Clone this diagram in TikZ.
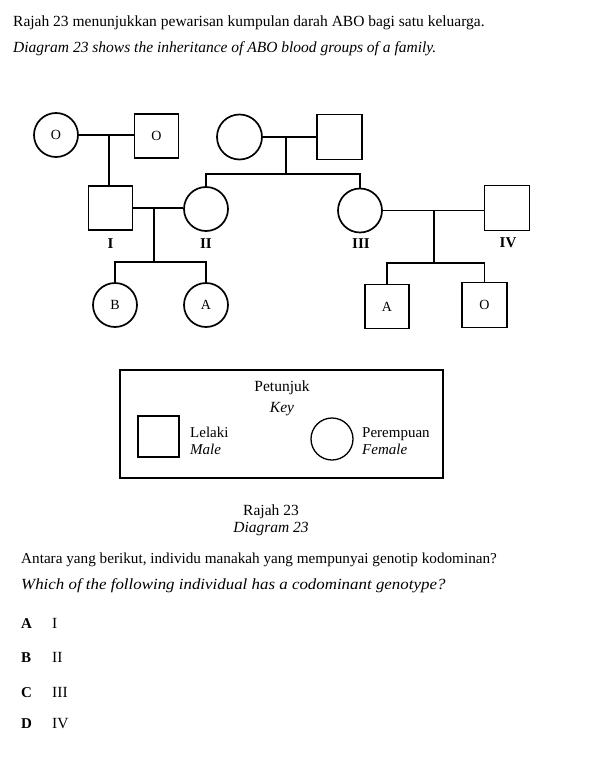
\documentclass[tikz,border=0pt]{standalone}
\usepackage{fontspec}
\setmainfont{Liberation Serif}
\begin{document}
\begin{tikzpicture}[x=1pt,y=-1pt,
  fem/.style={circle, draw, line width=1.7pt, minimum size=44pt, inner sep=0pt, font=\fontsize{14}{16}\selectfont},
  mal/.style={rectangle, draw, line width=1.7pt, minimum size=44pt, inner sep=0pt, font=\fontsize{14}{16}\selectfont},
  conn/.style={line width=1.6pt},
  gen/.style={inner sep=0pt, font=\bfseries\fontsize{15}{17}\selectfont},
  txt/.style={anchor=base west, inner sep=0pt, font=\fontsize{15.5}{18}\selectfont},
  itx/.style={anchor=base west, inner sep=0pt, font=\itshape\fontsize{15.5}{18}\selectfont},
  ctr/.style={anchor=base, inner sep=0pt, font=\fontsize{15.5}{18}\selectfont},
  opt/.style={anchor=base west, inner sep=0pt, font=\bfseries\fontsize{15}{18}\selectfont},
  keybox/.style={draw, line width=1.2pt},
  keysym/.style={draw, line width=1.3pt, minimum size=41pt, inner sep=0pt}
]
\useasboundingbox (0,0) rectangle (595,771);

% header text
\node[txt] (t1) at (13,26) {Rajah 23 menunjukkan pewarisan kumpulan darah ABO bagi satu keluarga.};
\node[itx] (t2) at (13,52) {Diagram 23 shows the inheritance of ABO blood groups of a family.};

% generation 1
\node[fem] (fO) at (56,135) {O};
\node[mal] (mO) at (156.5,136) {O};
\node[fem, minimum size=45pt] (gm) at (239.5,137) {};
\node[mal, minimum size=45pt] (gf) at (339.5,137) {};

% generation 2
\node[mal] (I) at (110.5,208) {};
\node[fem] (II) at (206,209) {};
\node[fem] (III) at (360,210.5) {};
\node[mal, minimum size=45pt] (IV) at (507,208) {};

\node[gen] (lI) at (110.5,244) {I};
\node[gen] (lII) at (206,244) {II};
\node[gen] (lIII) at (361,244) {III};
\node[gen] (lIV) at (508,243) {IV};

% generation 3
\node[fem] (cB) at (115,305) {B};
\node[fem] (cA) at (206,305) {A};
\node[mal] (sA) at (387,306.5) {A};
\node[mal, minimum size=45pt] (sO) at (484.5,305) {O};

% connectors
\coordinate (m1) at (109,135);
\draw[conn] (fO.east) -- (fO.east -| mO.west);
\draw[conn] (m1) -- (m1 |- I.north);

\coordinate (m2) at (286,136.5);
\coordinate (s2) at (286,174);
\draw[conn] (gm.east) -- (gm.east -| gf.west);
\draw[conn] (m2) -- (s2);
\draw[conn] (II.north) |- (s2) -| (III.north);

\coordinate (m3) at (154,208.5);
\coordinate (s3) at (154,262);
\draw[conn] (I.east) -- (I.east -| II.west);
\draw[conn] (m3) -- (s3);
\draw[conn] (cB.north) |- (s3) -| (cA.north);

\coordinate (m4) at (434,210);
\coordinate (s4) at (434,263);
\draw[conn] (III.east) -- (III.east -| IV.west);
\draw[conn] (m4) -- (s4);
\draw[conn] (sA.north) |- (s4) -| (sO.north);

% key
\node[keybox, minimum width=323pt, minimum height=108pt, inner sep=0pt] (key) at (281.5,424) {};
\node[ctr] (kt1) at (282,391) {Petunjuk};
\node[ctr, font=\itshape\fontsize{15.5}{18}\selectfont] (kt2) at (282,412) {Key};
\node[keysym, rectangle] (ksq) at (158.5,436.5) {};
\node[keysym, circle, minimum size=42pt] (kci) at (332,439) {};
\node[txt, font=\fontsize{15}{18}\selectfont] (kl1) at (190,437) {Lelaki};
\node[itx, font=\itshape\fontsize{15}{18}\selectfont] (kl2) at (190,454) {Male};
\node[txt, font=\fontsize{15}{18}\selectfont] (kf1) at (362,437) {Perempuan};
\node[itx, font=\itshape\fontsize{15}{18}\selectfont] (kf2) at (362,454) {Female};

% caption
\node[ctr] (c1) at (271,515) {Rajah 23};
\node[ctr, font=\itshape\fontsize{15.5}{18}\selectfont] (c2) at (271,532) {Diagram 23};

% question
\node[txt, font=\fontsize{15.2}{18}\selectfont] (q1) at (21,563) {Antara yang berikut, individu manakah yang mempunyai genotip kodominan?};
\node[itx] (q2) at (21,589) {\scalebox{1.09}[1]{Which of the following individual has a codominant genotype?}};

% options
\node[opt] (oA) at (21,628) {A};
\node[txt] (vA) at (52,628) {I};
\node[opt] (oB) at (21,662) {B};
\node[txt] (vB) at (52,662) {II};
\node[opt] (oC) at (21,697) {C};
\node[txt] (vC) at (52,697) {III};
\node[opt] (oD) at (21,728) {D};
\node[txt] (vD) at (52,728) {IV};
\end{tikzpicture}
\end{document}
